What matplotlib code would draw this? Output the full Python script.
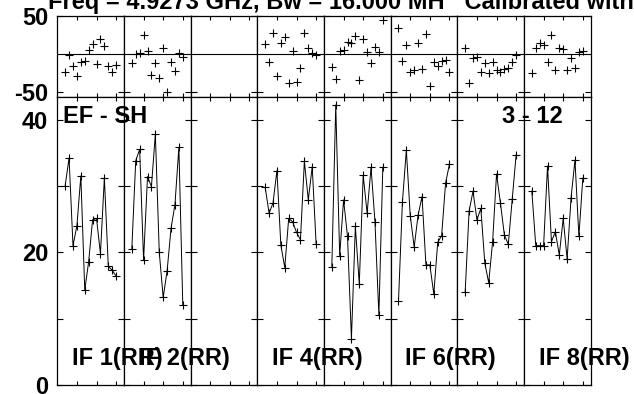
import matplotlib.pyplot as plt

plt.rcParams['font.family'] = ['Liberation Sans', 'DejaVu Sans']
plt.rcParams['font.weight'] = 'bold'

# channels plotted in every IF panel
channels = list(range(2, 16))

if_labels = ['IF 1(RR)', 'IF 2(RR)', '', 'IF 4(RR)', '', 'IF 6(RR)', '', 'IF 8(RR)']

# amplitude per IF (IF 3 has no data)
amp_if1 = [30.0, 34.2, 21.0, 24.0, 31.5, 14.3, 18.6, 24.9, 25.1, 19.8, 31.2, 17.9, 17.3, 16.4]
amp_if2 = [20.5, 33.8, 35.5, 18.8, 31.4, 29.9, 37.8, 20.0, 13.2, 17.2, 23.6, 27.2, 35.8, 12.0]
amp_if3 = []
amp_if4 = [29.8, 25.9, 27.4, 32.3, 21.1, 17.7, 25.1, 24.6, 23.0, 21.9, 33.7, 27.9, 32.9, 21.2]
amp_if5 = [17.8, 42.2, 19.5, 27.9, 22.4, 7.0, 23.9, 15.2, 31.6, 25.9, 32.8, 24.6, 10.5, 32.8]
amp_if6 = [12.6, 27.6, 35.4, 25.5, 20.8, 25.6, 28.4, 18.1, 18.1, 13.7, 21.5, 22.5, 30.4, 33.3]
amp_if7 = [14.0, 26.2, 29.2, 24.9, 26.6, 18.4, 15.4, 21.6, 31.8, 27.4, 22.6, 21.2, 28.0, 34.7]
amp_if8 = [29.2, 21.0, 21.0, 21.0, 33.0, 21.6, 23.1, 19.6, 25.1, 19.0, 28.2, 33.9, 22.4, 31.2]

# phase per IF (degrees)
ph_if1 = [-24.1, -1.3, -15.4, -28.9, -11.0, -9.2, 5.3, 13.2, -13.6, 19.7, 10.5, -15.8, -23.3, -14.5]
ph_if2 = [-12.3, -0.4, 0.9, 25.0, 4.4, -27.6, -12.3, -32.0, 7.5, -49.6, -10.1, -21.9, 0.9, -3.5]
ph_if3 = []
ph_if4 = [12.7, -10.1, 27.2, -28.9, 14.0, 22.8, -38.6, 3.9, -36.4, -18.9, 28.1, 7.5, 0.9, -1.3]
ph_if5 = [-16.7, -33.3, 4.4, 5.3, 15.4, 14.0, 23.7, -34.2, 19.3, 2.2, -11.4, 9.6, 3.1, 44.7]
ph_if6 = [33.8, -9.2, 11.8, -23.3, -21.1, 14.0, -20.2, 25.9, -42.1, -11.0, -15.4, -9.2, -7.9, -23.3]
ph_if7 = [7.5, -38.6, -5.7, -3.5, -24.1, -11.4, -24.6, -10.1, -21.1, -23.3, -20.2, -18.9, -10.1, -1.3]
ph_if8 = [-24.6, 7.5, 14.9, 11.8, -10.1, 25.0, -21.1, 8.3, 6.1, -21.1, -5.7, -18.9, 3.1, 4.4]

amps = [amp_if1, amp_if2, amp_if3, amp_if4, amp_if5, amp_if6, amp_if7, amp_if8]
phases = [ph_if1, ph_if2, ph_if3, ph_if4, ph_if5, ph_if6, ph_if7, ph_if8]

W, H = 634, 394
fig = plt.figure(figsize=(W / 100, H / 100), dpi=100)

x0, pw = 57.3, 66.67
top_y0, top_y1 = 16, 97
bot_y1 = 385
fs = 17

for i in range(8):
    left = (x0 + i * pw) / W
    # phase panel
    axp = fig.add_axes([left, 1 - top_y1 / H, pw / W, (top_y1 - top_y0) / H])
    # amplitude panel
    axa = fig.add_axes([left, 1 - bot_y1 / H, pw / W, (bot_y1 - top_y1) / H])

    for ax in (axp, axa):
        ax.set_xlim(0, 17)
        ax.set_xticks([5, 10, 15])
        ax.tick_params(axis='x', direction='in', top=True, bottom=True,
                       length=3, width=0.8, labelbottom=False)
        ax.tick_params(axis='y', direction='in', left=True, right=True,
                       length=4.5, width=0.8, pad=6.5, labelsize=fs)
        for s in ax.spines.values():
            s.set_linewidth(0.9)

    axp.set_ylim(-56.6, 50)
    axp.set_yticks([-50, 50])
    axp.axhline(0, color='k', lw=0.8)
    axa.set_ylim(0, 43.4)
    axa.set_yticks([0, 10, 20, 30, 40])

    if i == 0:
        axp.set_yticklabels(['-50', '50'])
        axa.set_yticklabels(['0', '', '20', '', '40'])
    else:
        axp.set_yticklabels([])
        axa.set_yticklabels([])

    if len(amps[i]) > 0:
        axa.plot(channels, amps[i], color='k', lw=0.7, marker='+', ms=6, mew=0.8)
        axp.plot(channels, phases[i], color='k', lw=0, marker='+', ms=6, mew=0.8)

    if if_labels[i]:
        fig.text((x0 + i * pw + 14.7) / W, 1 - 365 / H, if_labels[i],
                 fontsize=fs, fontweight='bold', va='baseline', ha='left')

fig.text(48 / W, 1 - 9.5 / H,
         'Freq = 4.9273 GHz, Bw = 16.000 MH   Calibrated with CL 2',
         fontsize=fs, fontweight='bold', va='baseline', ha='left')
fig.text(63 / W, 1 - 123.3 / H, 'EF - SH', fontsize=fs, fontweight='bold',
         va='baseline', ha='left')
fig.text(563 / W, 1 - 123.3 / H, '3 - 12', fontsize=fs, fontweight='bold',
         va='baseline', ha='right')

fig.savefig('out.png', dpi=100)
